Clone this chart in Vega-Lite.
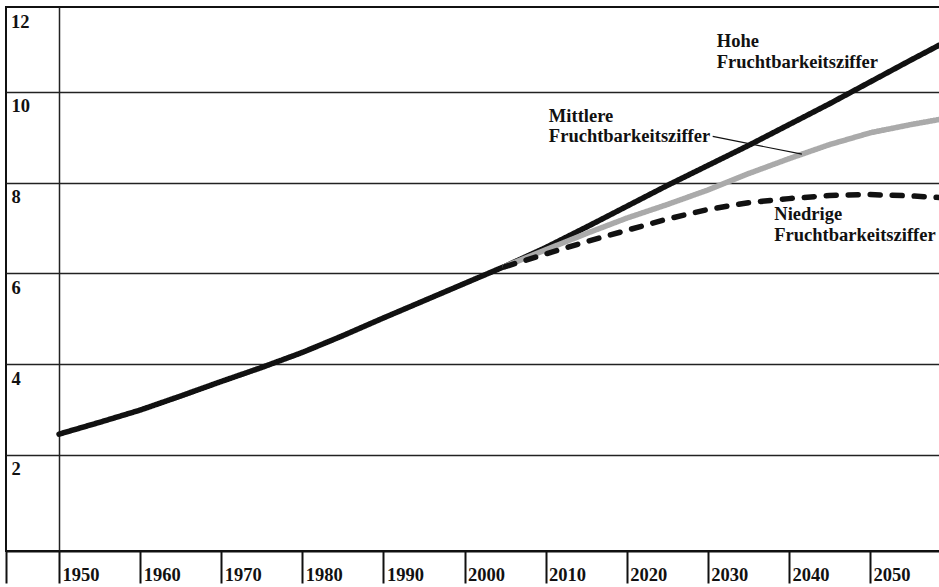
{
  "$schema": "https://vega.github.io/schema/vega-lite/v6.json",
  "width": 934,
  "height": 544,
  "autosize": {"type": "none"},
  "padding": {"left": 6, "top": 7, "right": 0, "bottom": 36},
  "background": "white",
  "config": {
    "view": {"stroke": "#111", "strokeWidth": 2},
    "font": "Liberation Serif",
    "axis": {
      "labelFont": "Liberation Serif",
      "labelFontWeight": "bold",
      "labelFontSize": 18.5,
      "labelColor": "#111",
      "title": null
    }
  },
  "datasets": {
    "pop": [
      {"year": 1950, "variant": "Hoch", "value": 2.46},
      {"year": 1955, "variant": "Hoch", "value": 2.72},
      {"year": 1960, "variant": "Hoch", "value": 2.99},
      {"year": 1965, "variant": "Hoch", "value": 3.3},
      {"year": 1970, "variant": "Hoch", "value": 3.62},
      {"year": 1975, "variant": "Hoch", "value": 3.93},
      {"year": 1980, "variant": "Hoch", "value": 4.26},
      {"year": 1985, "variant": "Hoch", "value": 4.63},
      {"year": 1990, "variant": "Hoch", "value": 5.02},
      {"year": 1995, "variant": "Hoch", "value": 5.4},
      {"year": 2000, "variant": "Hoch", "value": 5.78},
      {"year": 2005, "variant": "Hoch", "value": 6.16},
      {"year": 2010, "variant": "Hoch", "value": 6.57},
      {"year": 2015, "variant": "Hoch", "value": 7.02},
      {"year": 2020, "variant": "Hoch", "value": 7.48},
      {"year": 2025, "variant": "Hoch", "value": 7.94},
      {"year": 2030, "variant": "Hoch", "value": 8.38},
      {"year": 2035, "variant": "Hoch", "value": 8.82},
      {"year": 2040, "variant": "Hoch", "value": 9.28},
      {"year": 2045, "variant": "Hoch", "value": 9.74},
      {"year": 2050, "variant": "Hoch", "value": 10.22},
      {"year": 2055, "variant": "Hoch", "value": 10.7},
      {"year": 2060, "variant": "Hoch", "value": 11.17},
      {"year": 2005, "variant": "Mittel", "value": 6.16},
      {"year": 2010, "variant": "Mittel", "value": 6.52},
      {"year": 2015, "variant": "Mittel", "value": 6.88},
      {"year": 2020, "variant": "Mittel", "value": 7.22},
      {"year": 2025, "variant": "Mittel", "value": 7.52},
      {"year": 2030, "variant": "Mittel", "value": 7.84},
      {"year": 2035, "variant": "Mittel", "value": 8.2},
      {"year": 2040, "variant": "Mittel", "value": 8.53},
      {"year": 2045, "variant": "Mittel", "value": 8.84},
      {"year": 2050, "variant": "Mittel", "value": 9.1},
      {"year": 2055, "variant": "Mittel", "value": 9.28},
      {"year": 2060, "variant": "Mittel", "value": 9.44},
      {"year": 2005, "variant": "Niedrig", "value": 6.15},
      {"year": 2010, "variant": "Niedrig", "value": 6.43},
      {"year": 2015, "variant": "Niedrig", "value": 6.7},
      {"year": 2020, "variant": "Niedrig", "value": 6.95},
      {"year": 2025, "variant": "Niedrig", "value": 7.2},
      {"year": 2030, "variant": "Niedrig", "value": 7.41},
      {"year": 2035, "variant": "Niedrig", "value": 7.56},
      {"year": 2040, "variant": "Niedrig", "value": 7.65},
      {"year": 2045, "variant": "Niedrig", "value": 7.72},
      {"year": 2050, "variant": "Niedrig", "value": 7.74},
      {"year": 2055, "variant": "Niedrig", "value": 7.71},
      {"year": 2060, "variant": "Niedrig", "value": 7.66}
    ],
    "ticks": [
      {"year": 1950}, {"year": 1955}, {"year": 1960}, {"year": 1965}, {"year": 1970},
      {"year": 1975}, {"year": 1980}, {"year": 1985}, {"year": 1990}, {"year": 1995},
      {"year": 2000}, {"year": 2005}, {"year": 2010}, {"year": 2015}, {"year": 2020},
      {"year": 2025}, {"year": 2030}, {"year": 2035}, {"year": 2040}, {"year": 2045},
      {"year": 2050}, {"year": 2055}
    ],
    "labels": [
      {"year": 2031.1, "value": 10.99, "text": ["Hohe", "Fruchtbarkeitsziffer"]},
      {"year": 2010.4, "value": 9.34, "text": ["Mittlere", "Fruchtbarkeitsziffer"]},
      {"year": 2038.2, "value": 7.17, "text": ["Niedrige", "Fruchtbarkeitsziffer"]}
    ],
    "topLabel": [
      {"year": 1943.46, "value": 11.873, "text": "12"}
    ],
    "leader": [
      {"year": 2030.6, "value": 9.02, "year2": 2041.6, "value2": 8.63}
    ]
  },
  "encoding": {
    "x": {
      "field": "year",
      "type": "quantitative",
      "scale": {"domain": [1943.46, 2058.63], "nice": false, "zero": false},
      "axis": {
        "orient": "bottom",
        "values": [1943.46, 1950, 1960, 1970, 1980, 1990, 2000, 2010, 2020, 2030, 2040, 2050],
        "labelExpr": "datum.value < 1945 ? '' : format(datum.value, 'd')",
        "labelAlign": "left",
        "labelBaseline": "alphabetic",
        "labelOffset": 3,
        "labelPadding": -3,
        "tickSize": 32,
        "tickWidth": 2,
        "tickColor": "#111",
        "domainColor": "#111",
        "domainWidth": 2,
        "grid": true,
        "gridColor": "#222",
        "gridWidth": 1.5,
        "gridOpacity": {"condition": {"test": "datum.value == 1950", "value": 1}, "value": 0}
      }
    },
    "y": {
      "field": "value",
      "type": "quantitative",
      "scale": {"domain": [-0.116, 11.873], "nice": false, "zero": false},
      "axis": {
        "orient": "left",
        "values": [2, 4, 6, 8, 10],
        "domain": false,
        "ticks": false,
        "tickSize": 0,
        "labelPadding": -5,
        "labelAlign": "left",
        "labelBaseline": "alphabetic",
        "labelOffset": 20,
        "grid": true,
        "gridColor": "#222",
        "gridWidth": 1.5
      }
    }
  },
  "layer": [
    {
      "data": {"name": "ticks"},
      "transform": [{"filter": "datum.year % 10 == 0"}],
      "mark": {"type": "tick", "orient": "vertical", "thickness": 2, "size": 12, "color": "#111"},
      "encoding": {"y": {"datum": -0.116}}
    },
    {
      "data": {"name": "ticks"},
      "transform": [{"filter": "datum.year % 10 == 5"}],
      "mark": {"type": "tick", "orient": "vertical", "thickness": 1.6, "size": 16, "color": "#111"},
      "encoding": {"y": {"datum": -0.116}}
    },
    {
      "data": {"name": "pop"},
      "mark": {"type": "line", "strokeWidth": 5.5, "strokeCap": "round", "strokeJoin": "round", "clip": true},
      "encoding": {
        "color": {
          "field": "variant",
          "type": "nominal",
          "scale": {"domain": ["Hoch", "Mittel", "Niedrig"], "range": ["#111111", "#aaaaaa", "#111111"]},
          "legend": null
        },
        "strokeDash": {
          "field": "variant",
          "type": "nominal",
          "scale": {"domain": ["Hoch", "Mittel", "Niedrig"], "range": [[1, 0], [1, 0], [10, 12]]},
          "legend": null
        },
        "order": {"field": "year", "type": "quantitative"}
      }
    },
    {
      "data": {"name": "leader"},
      "mark": {"type": "rule", "color": "#111", "strokeWidth": 1.2},
      "encoding": {
        "x2": {"field": "year2"},
        "y2": {"field": "value2"}
      }
    },
    {
      "data": {"name": "labels"},
      "mark": {
        "type": "text",
        "align": "left",
        "baseline": "alphabetic",
        "font": "Liberation Serif",
        "fontWeight": "bold",
        "fontSize": 18.5,
        "lineHeight": 20.5,
        "color": "#111"
      },
      "encoding": {"text": {"field": "text"}}
    },
    {
      "data": {"name": "topLabel"},
      "mark": {
        "type": "text",
        "align": "left",
        "baseline": "alphabetic",
        "dx": 5,
        "dy": 21,
        "font": "Liberation Serif",
        "fontWeight": "bold",
        "fontSize": 18.5,
        "color": "#111"
      },
      "encoding": {"text": {"field": "text"}}
    }
  ]
}
